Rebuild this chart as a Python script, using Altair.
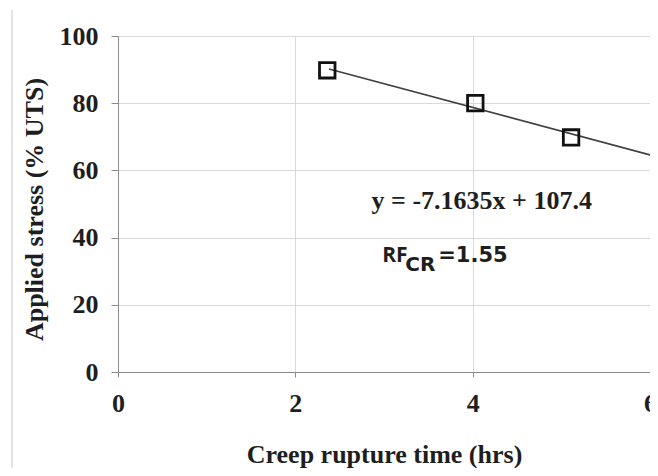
import altair as alt
import pandas as pd

# ---- data ----
time_hrs = [2.36, 4.03, 5.11]          # creep rupture time (hrs)
stress_pct = [89.8, 80.0, 69.8]        # applied stress (% UTS)
trend_x = [2.38, 6.0]                  # trendline endpoints (as drawn)
trend_y = [90.2, 64.6]
x_ticks = [0, 2, 4, 6]
y_ticks = [0, 20, 40, 60, 80, 100]
equation_text = ["y = -7.1635x + 107.4"]
equation_x = [2.86]
equation_y = [51.0]
rf_text = ["RF"]
rf_sub = ["CR"]
rf_value = ["=1.55"]
rf_x = [2.98]
rf_y = [34.4]

pts = pd.DataFrame({"t": time_hrs, "s": stress_pct})
trend = pd.DataFrame({"t": trend_x, "s": trend_y})
eq = pd.DataFrame({"t": equation_x, "s": equation_y, "label": equation_text})
rf = pd.DataFrame({"t": rf_x, "s": rf_y, "a": rf_text, "b": rf_sub, "c": rf_value})

SERIF = "Liberation Serif"
SANS_N = "Open Sans"
SANS_W = "DejaVu Sans"
AXC = "#8c8c8c"
TXT = "#1e1e1e"

x_enc = alt.X(
    "t:Q",
    scale=alt.Scale(domain=[0, 6], nice=False, zero=True),
    axis=alt.Axis(
        values=x_ticks,
        title="Creep rupture time (hrs)",
        format="d",
        labelFont=SERIF, labelFontSize=26, labelFontWeight="bold", labelColor=TXT,
        labelPadding=13, tickSize=5, tickColor=AXC, domainColor=AXC,
        titleFont=SERIF, titleFontSize=26, titleFontWeight="bold", titleColor=TXT,
        titleBaseline="alphabetic", titleY=90, titleAnchor="middle",
        gridColor="#d9d9d9", labelFlush=False,
    ),
)
y_enc = alt.Y(
    "s:Q",
    scale=alt.Scale(domain=[0, 100], nice=False),
    axis=alt.Axis(
        values=y_ticks,
        title="Applied stress (% UTS)",
        format="d",
        labelFont=SERIF, labelFontSize=26, labelFontWeight="bold", labelColor=TXT,
        labelPadding=13, tickSize=7, tickColor=AXC, domainColor=AXC,
        titleFont=SERIF, titleFontSize=26, titleFontWeight="bold", titleColor=TXT,
        titleX=-84, titleY=173, titleAngle=270,
        titleBaseline="middle",
        gridColor="#d9d9d9",
    ),
)

base = alt.Chart(pts)

points = base.mark_point(
    shape="square", filled=False, size=240, strokeWidth=2.8, color="#111111", opacity=1
).encode(x=x_enc, y=y_enc)

line = alt.Chart(trend).mark_line(color="#404040", strokeWidth=1.6).encode(
    x="t:Q", y="s:Q"
)

eq_text = alt.Chart(eq).mark_text(
    font=SERIF, fontSize=26, fontWeight="bold", color=TXT, align="left", baseline="middle"
).encode(x="t:Q", y="s:Q", text="label:N")

rf_main = alt.Chart(rf).mark_text(
    font=SANS_N, fontSize=21, fontWeight="bold", color=TXT, align="left", baseline="middle"
).encode(x="t:Q", y="s:Q", text="a:N")
rf_subscript = alt.Chart(rf).mark_text(
    font=SANS_W, fontSize=20, fontWeight="bold", color=TXT, align="left", baseline="middle",
    dx=23, dy=9,
).encode(x="t:Q", y="s:Q", text="b:N")
rf_val = alt.Chart(rf).mark_text(
    font=SANS_W, fontSize=21, fontWeight="bold", color=TXT, align="left", baseline="middle",
    dx=56,
).encode(x="t:Q", y="s:Q", text="c:N")

border = alt.Chart(pts).mark_rule(color="#e3e3e3", strokeWidth=1.5).encode(
    x=alt.value(-106), y=alt.value(-26), y2=alt.value(440)
)

chart = alt.layer(border, line, points, eq_text, rf_main, rf_subscript, rf_val).properties(
    width=532,
    height=336,
    autosize=alt.AutoSizeParams(type="none"),
    padding={"left": 110, "top": 28, "right": 0, "bottom": 96},
    background="white",
).configure_view(stroke=AXC, strokeWidth=1)

chart.save("out.html", embed_options={"renderer": "svg", "actions": False})
